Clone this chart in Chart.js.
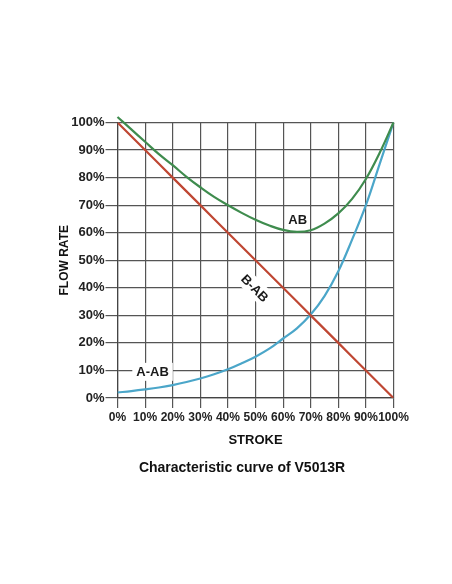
<!DOCTYPE html>
<html>
<head>
<meta charset="utf-8">
<title>Characteristic curve of V5013R</title>
<script src="https://cdn.jsdelivr.net/npm/chart.js@4.4.0/dist/chart.umd.min.js"></script>
<style>
    html, body { margin: 0; padding: 0; background: #fff; }
    #wrap { position: relative; width: 452px; height: 584px; }
    #caption { position: absolute; left: 0; top: 459px; width: 484px; text-align: center;
               font: bold 14px "Liberation Sans", Arial, sans-serif; line-height: 16px; color: #111; }
</style>
</head>
<body>
<div id="wrap">
    <canvas id="curveChart" width="452" height="584"></canvas>
    <div id="caption">Characteristic curve of V5013R</div>
</div>
<script>
// stroke positions (%) the curves were read at
const stroke = [0, 5, 10, 15, 20, 25, 30, 35, 40, 45, 50, 55, 60, 65, 70, 75, 80, 85, 90, 95, 100];
const flowAB  = [102, 97.5, 93, 88.5, 84.5, 80.3, 76.5, 73, 70, 67.2, 64.7, 62.6, 61, 60.3, 60.9, 63.3, 67, 72.3, 79.5, 89, 100];
const flowBAB = [100, 95, 90, 85, 80, 75, 70, 65, 60, 55, 50, 45, 40, 35, 30, 25, 20, 15, 10, 5, 0];
const flowAAB = [2, 2.5, 3.1, 3.8, 4.7, 5.8, 7.1, 8.6, 10.4, 12.6, 15, 17.9, 21.6, 25.3, 30.3, 37, 46, 57.5, 70, 85, 100];
const tickValues = [0, 10, 20, 30, 40, 50, 60, 70, 80, 90, 100];

// curve names written on the plot (data coordinates)
const curveNames = ['AB', 'B-AB', 'A-AB'];
const nameX = [65.3, 49.8, 12.7];
const nameY = [64.9, 39.9, 9.5];
const nameAngle = [0, 45, 0];
const nameBox = [false, true, true];

const FONT = '"Liberation Sans", Arial, sans-serif';

const toPoints = vals => stroke.map((x, i) => ({ x: x, y: vals[i] }));

const curveLabels = {
    id: 'curveLabels',
    beforeDatasetsDraw(chart) {
        const { ctx, scales: { x, y } } = chart;
        ctx.save();
        ctx.font = 'bold 13px ' + FONT;
        ctx.textAlign = 'center';
        ctx.textBaseline = 'middle';
        curveNames.forEach((name, i) => {
            ctx.save();
            ctx.translate(x.getPixelForValue(nameX[i]), y.getPixelForValue(nameY[i]));
            ctx.rotate(nameAngle[i] * Math.PI / 180);
            const w = ctx.measureText(name).width;
            if (nameBox[i]) {
                ctx.fillStyle = '#fff';
                ctx.fillRect(-w / 2 - 4, -9, w + 8, 18);
            }
            ctx.fillStyle = '#1a1a1a';
            ctx.fillText(name, 0, 1);
            ctx.restore();
        });
        ctx.restore();
    }
};

const gridOpts = len => ({ color: '#555', lineWidth: 1.2, tickLength: len, tickColor: '#555' });

new Chart(document.getElementById('curveChart'), {
    type: 'line',
    data: {
        datasets: [
            { label: 'AB', data: toPoints(flowAB), borderColor: '#3f8c4e', tension: 0.4, clip: false },
            { label: 'B-AB', data: toPoints(flowBAB), borderColor: '#bf4733', tension: 0 },
            { label: 'A-AB', data: toPoints(flowAAB), borderColor: '#4ba6c9', tension: 0.4 }
        ]
    },
    options: {
        responsive: false,
        animation: false,
        parsing: false,
        layout: { padding: { left: 0, top: 122.5, right: 58.5, bottom: 135.5 } },
        elements: { point: { radius: 0 }, line: { borderWidth: 2.2, fill: false } },
        plugins: { legend: { display: false }, tooltip: { enabled: false } },
        scales: {
            x: {
                type: 'linear', min: 0, max: 100,
                afterBuildTicks: s => { s.ticks = tickValues.map(v => ({ value: v })); },
                ticks: { callback: v => v + '%', font: { family: FONT, size: 12, weight: 'bold' }, color: '#222', padding: 2, maxRotation: 0, autoSkip: false },
                grid: gridOpts(10),
                border: { color: '#444', width: 1.2 },
                title: { display: true, text: 'STROKE', font: { family: FONT, size: 13, weight: 'bold' }, color: '#111', padding: { top: 0, bottom: 0 } },
                afterFit: s => { s.height = 50.5; }
            },
            y: {
                type: 'linear', min: 0, max: 100,
                afterBuildTicks: s => { s.ticks = tickValues.map(v => ({ value: v })); },
                ticks: { callback: v => v + '%', font: { family: FONT, size: 13, weight: 'bold' }, color: '#222', padding: 1 },
                grid: gridOpts(12),
                border: { color: '#444', width: 1.2 },
                title: { display: true, text: 'FLOW RATE', font: { family: FONT, size: 12, weight: 'bold' }, color: '#111', padding: { top: 57.3, bottom: 0 } },
                afterFit: s => { s.width = 117.5; }
            }
        }
    },
    plugins: [curveLabels]
});
</script>
</body>
</html>
